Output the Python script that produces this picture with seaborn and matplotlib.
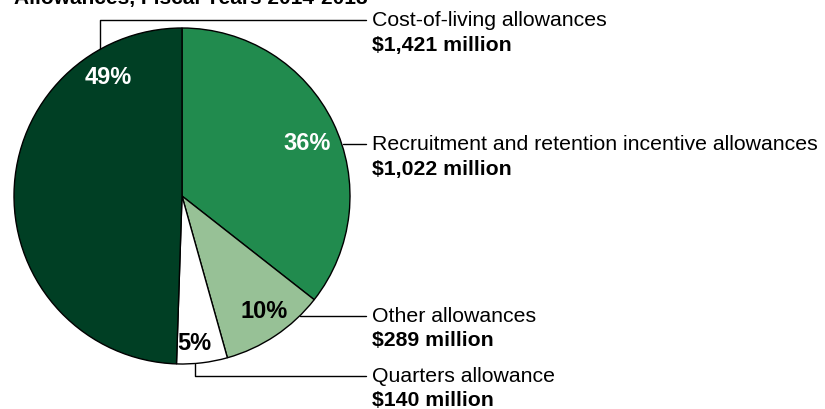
import seaborn as sns
import matplotlib.pyplot as plt

# data (millions of dollars), clockwise from 12 o'clock
categories = ['Recruitment and retention incentive allowances', 'Other allowances',
              'Quarters allowance', 'Cost-of-living allowances']
amounts = [1022, 289, 140, 1421]
amount_labels = ['$1,022 million', '$289 million', '$140 million', '$1,421 million']
pct_labels = ['36%', '10%', '5%', '49%']

sns.set_theme(style='white')
plt.rcParams['font.family'] = ['Liberation Sans', 'DejaVu Sans']

colors = ['#218b4e', '#97c196', '#ffffff', '#003f24']
pct_colors = ['white', 'black', 'black', 'white']

W, H = 825, 409
fig = plt.figure(figsize=(W / 100, H / 100), dpi=100)
ax = fig.add_axes([0, 0, 1, 1])


def py(y):
    # pixel row (from top) -> data y
    return H - y


cx, cy, r = 182, 196, 168
wedges, _ = ax.pie(
    amounts,
    colors   = colors,
    startangle = 90,
    counterclock = False,
    center   = (cx, py(cy)),
    radius   = r,
    wedgeprops = {'edgecolor': 'black', 'linewidth': 1.0},
    frame    = True,
)
ax.set_xlim(0, W)
ax.set_ylim(0, H)
ax.axis('off')

# percent labels inside slices
pct_pos = [(307, 144), (264, 312), (194, 344), (108, 77)]
for lab, (x, y), c in zip(pct_labels, pct_pos, pct_colors):
    ax.text(x, py(y), lab, color=c, fontsize=17, fontweight='bold',
            ha='center', va='center')

# leader lines and callouts
lx = 366
tx = 372
leaders = [
    [(343, 144), (lx, 144)],
    [(300, 316), (lx, 316)],
    [(195, 364), (195, 376), (lx, 376)],
    [(100, 49), (100, 20), (lx, 20)],
]
label_y = [144, 316, 376, 20]
for pts, name, amt, y in zip(leaders, categories, amount_labels, label_y):
    xs = [p[0] for p in pts]
    ys = [py(p[1]) for p in pts]
    ax.plot(xs, ys, color='black', linewidth=1.0)
    ax.text(tx, py(y), name, fontsize=15.3, ha='left', va='center', color='black')
    ax.text(tx, py(y + 25), amt, fontsize=15.3, fontweight='bold',
            ha='left', va='center', color='black')

# title, cut off at the top of the frame
ax.text(14, py(4), 'Allowances, Fiscal Years 2014-2018', fontsize=15,
        fontweight='bold', ha='left', va='baseline', color='black')

fig.savefig('out.png', dpi=100)
